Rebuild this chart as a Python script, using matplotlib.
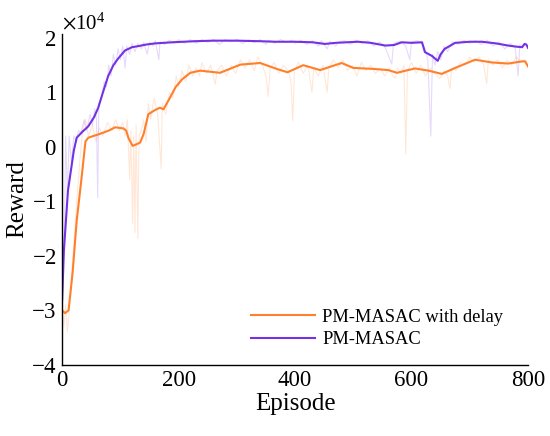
import numpy as np
import matplotlib
matplotlib.use("Agg")
import matplotlib.pyplot as plt
from matplotlib.ticker import ScalarFormatter

plt.rcParams['font.family'] = ['Liberation Serif', 'DejaVu Serif']
plt.rcParams['mathtext.fontset'] = 'stix'

SCALE = 1e4  # values below are read in units of 1e4

# smoothed curves (episode, reward / 1e4)
masac_ep = [0, 3, 10, 20, 25, 35, 45, 55, 62, 70, 79, 88, 96, 108, 120, 131, 145, 160, 189, 228,
            260, 300, 340, 366, 400, 430, 451, 470, 508, 530, 555, 570, 583, 600, 618, 623, 635,
            645, 650, 657, 675, 700, 721, 745, 766, 780, 790, 794, 797, 800]
masac_val = [-2.8, -1.9, -0.8, -0.07, 0.17, 0.28, 0.38, 0.55, 0.72, 1.0, 1.3, 1.5, 1.62, 1.77, 1.83,
             1.85, 1.88, 1.9, 1.92, 1.94, 1.95, 1.95, 1.94, 1.93, 1.93, 1.92, 1.89, 1.91, 1.93, 1.91,
             1.86, 1.87, 1.92, 1.91, 1.92, 1.74, 1.67, 1.58, 1.7, 1.8, 1.91, 1.93, 1.93, 1.9, 1.86,
             1.84, 1.83, 1.89, 1.88, 1.82]

delay_ep = [0, 5, 11, 18, 25, 33, 40, 45, 65, 80, 91, 105, 110, 114, 121, 128, 134, 140, 148, 160,
            168, 174, 185, 195, 206, 220, 237, 271, 306, 340, 369, 387, 414, 443, 480, 500, 537,
            560, 575, 590, 606, 629, 652, 675, 709, 738, 766, 790, 795, 800]
delay_val = [-3.0, -3.05, -3.0, -2.3, -1.35, -0.6, 0.1, 0.17, 0.24, 0.3, 0.36, 0.34, 0.3, 0.16, 0.02,
             0.05, 0.08, 0.24, 0.6, 0.68, 0.72, 0.69, 0.9, 1.1, 1.24, 1.36, 1.4, 1.36, 1.51, 1.54,
             1.43, 1.37, 1.5, 1.41, 1.54, 1.45, 1.43, 1.41, 1.36, 1.4, 1.44, 1.4, 1.34, 1.45, 1.6,
             1.55, 1.53, 1.57, 1.57, 1.48]

# raw (unsmoothed) curves, read points incl. spikes
masac_raw_ep = [0, 2, 4, 6, 9, 12, 16, 20, 24, 28, 32, 38, 42, 48, 52, 56, 59, 61, 63, 68, 72, 76,
                80, 84, 88, 92, 96, 100, 104, 108, 111, 116, 120, 125, 130, 136, 140, 146, 150, 156,
                160, 166, 168, 176, 184, 192, 200, 210, 220, 230, 240, 250, 260, 270, 280, 290,
                300, 310, 320, 330, 340, 350, 355, 365, 375, 385, 395, 400, 410, 420, 430, 440,
                445, 455, 460, 470, 475, 485, 495, 505, 515, 525, 535, 545, 555, 566, 569, 580,
                590, 597, 600, 610, 618, 623, 628, 633, 636, 640, 645, 650, 656, 662, 670, 680,
                690, 700, 710, 720, 730, 740, 750, 760, 770, 778, 783, 786, 792, 796, 800]
masac_raw_val = [-2.9, -2.0, -1.4, 0.2, -0.9, 0.2, -0.3, 0.2, 0.1, 0.3, 0.25, 0.5, 0.3, 0.6, 0.4,
                 0.7, 0.5, -0.93, 0.8, 0.9, 1.2, 1.1, 1.5, 1.3, 1.7, 1.5, 1.8, 1.6, 1.85, 1.45, 1.85,
                 1.7, 1.9, 1.75, 1.9, 1.8, 1.92, 1.7, 1.92, 1.85, 1.95, 1.6, 1.93, 1.88, 1.96, 1.9,
                 1.97, 1.9, 1.97, 1.9, 1.97, 1.92, 1.97, 1.88, 1.97, 1.93, 1.97, 1.9, 1.96, 1.91,
                 1.97, 1.88, 1.96, 1.9, 1.97, 1.92, 1.96, 1.9, 1.96, 1.88, 1.95, 1.85, 1.95, 1.8,
                 1.94, 1.85, 1.93, 1.95, 1.88, 1.96, 1.9, 1.95, 1.85, 1.93, 1.82, 1.52, 1.9, 1.94,
                 1.85, 1.6, 1.93, 1.95, 1.9, 1.8, 1.6, 0.2, 1.7, 1.5, 1.75, 1.6, 1.85, 1.75, 1.93,
                 1.88, 1.96, 1.9, 1.95, 1.88, 1.96, 1.85, 1.93, 1.8, 1.9, 1.82, 1.3, 1.88, 1.85,
                 1.9, 1.8]

delay_raw_ep = [0, 3, 6, 9, 12, 15, 20, 25, 30, 35, 40, 45, 52, 58, 64, 70, 78, 85, 92, 98, 104,
                108, 112, 116, 118, 121, 123, 125, 127, 130, 132, 136, 140, 144, 148, 152, 158,
                164, 170, 172, 178, 184, 190, 196, 200, 206, 212, 218, 224, 230, 236, 240, 248,
                255, 263, 266, 274, 282, 290, 298, 306, 314, 322, 330, 336, 344, 350, 354, 357,
                364, 372, 380, 388, 393, 396, 399, 406, 414, 422, 429, 432, 440, 448, 455, 458,
                466, 474, 482, 490, 498, 506, 514, 522, 530, 538, 546, 554, 562, 568, 572, 576,
                582, 587, 590, 593, 600, 608, 616, 624, 632, 640, 648, 656, 662, 666, 669, 676,
                684, 692, 700, 708, 716, 724, 729, 732, 740, 748, 756, 764, 772, 780, 788, 794, 800]
delay_raw_val = [-2.9, -3.3, -2.9, -3.4, -3.0, -2.6, -1.8, -1.0, -0.3, 0.3, 0.5, 0.2, 0.4, 0.1,
                 0.35, 0.2, 0.45, 0.3, 0.5, 0.3, 0.45, 0.2, 0.5, -0.6, 0.3, -1.4, 0.2, -1.57, 0.4,
                 -1.68, 0.2, 0.3, 0.5, 0.1, 0.8, 0.5, 0.9, 0.6, -0.4, 0.8, 0.6, 1.0, 0.9, 1.3, 1.1,
                 1.4, 1.2, 1.5, 1.3, 1.45, 1.3, 1.55, 1.35, 1.5, 1.15, 1.4, 1.5, 1.3, 1.5, 1.35,
                 1.6, 1.45, 1.6, 1.4, 1.65, 1.5, 1.3, 0.93, 1.45, 1.55, 1.35, 1.5, 1.4, 1.2, 0.48,
                 1.4, 1.55, 1.35, 1.5, 1.0, 1.45, 1.3, 1.5, 1.0, 1.45, 1.6, 1.45, 1.6, 1.4, 1.5,
                 1.3, 1.55, 1.4, 1.5, 1.35, 1.45, 1.3, 1.45, 1.3, 1.26, 1.45, 1.35, 1.5, -0.13,
                 1.4, 1.55, 1.35, 1.5, 1.3, 1.45, 1.35, 1.25, 1.4, 1.3, 1.07, 1.45, 1.4, 1.55, 1.5,
                 1.65, 1.55, 1.65, 1.5, 1.16, 1.6, 1.5, 1.6, 1.45, 1.6, 1.5, 1.65, 1.55, 1.6, 1.45]

orange = '#ff7f2a'
purple = '#7332e4'

fig = plt.figure(figsize=(5.5, 4.36), dpi=100)
ax = fig.add_axes([0.113, 0.163, 0.847, 0.76])

ax.plot(delay_raw_ep, np.array(delay_raw_val) * SCALE, color=orange, alpha=0.18, linewidth=0.8)
ax.plot(masac_raw_ep, np.array(masac_raw_val) * SCALE, color=purple, alpha=0.18, linewidth=0.8)
ax.plot(delay_ep, np.array(delay_val) * SCALE, color=orange, linewidth=1.5, label='PM-MASAC with delay')
ax.plot(masac_ep, np.array(masac_val) * SCALE, color=purple, linewidth=1.5, label='PM-MASAC')

ax.set_xlim(0, 800)
ax.set_ylim(-4e4, 2.08e4)
ax.set_xticks([0, 200, 400, 600, 800])
ax.set_yticks([-4e4, -3e4, -2e4, -1e4, 0, 1e4, 2e4])
fmt = ScalarFormatter(useMathText=True)
fmt.set_powerlimits((0, 0))
ax.yaxis.set_major_formatter(fmt)
ax.yaxis.get_offset_text().set_fontsize(15)
ax.tick_params(length=0, labelsize=16.5, pad=4)

ax.spines['top'].set_visible(False)
ax.spines['right'].set_visible(False)
ax.spines['left'].set_linewidth(1.0)
ax.spines['bottom'].set_linewidth(1.0)

ax.set_xlabel('Episode', fontsize=18, labelpad=1)
ax.set_ylabel('Reward', fontsize=18, labelpad=2)

ax.legend(loc='lower right', frameon=False, fontsize=13.3, handlelength=3.45,
          handletextpad=0.4, labelspacing=0.3, bbox_to_anchor=(0.982, 0.0))

fig.savefig('out.png', dpi=100)
